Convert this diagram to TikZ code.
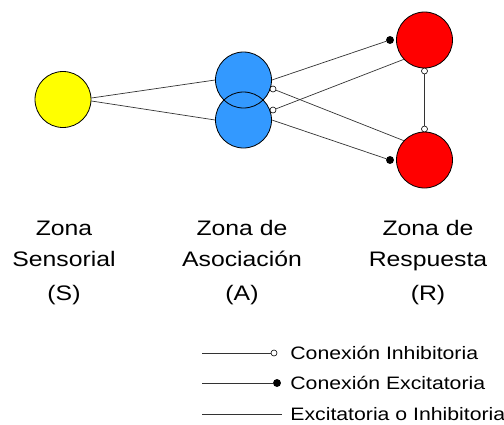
\documentclass[tikz,border=0pt]{standalone}
\usepackage{fontspec}
\setmainfont{Liberation Sans}[FakeStretch=1.18]
\usetikzlibrary{positioning}

\definecolor{sensor}{RGB}{255,255,0}
\definecolor{assoc}{RGB}{51,153,255}
\definecolor{resp}{RGB}{255,0,0}

\begin{document}
\begin{tikzpicture}
	[x=1pt, y=-1pt, line width=0.8pt,
	 neuron/.style = {circle, minimum size=56pt, inner sep=0pt},
	 link/.style = {black!80, line width=0.7pt},
	 inh/.style = {draw, circle, fill=white, minimum size=6pt, inner sep=0pt, line width=0.6pt},
	 exc/.style = {draw, circle, fill=black, minimum size=7pt, inner sep=0pt},
	 zone/.style = {align=center, anchor=base, inner sep=0pt, font=\fontsize{21}{31}\selectfont},
	 legend/.style = {anchor=base west, inner sep=0pt, font=\fontsize{18}{22}\selectfont}]
	\useasboundingbox (0,0) rectangle (504,424);
	\node[neuron, draw, fill=sensor] (S) at (63,99.5) {};
	\node[neuron, fill=assoc] (A1) at (243.5,80) {};
	\node[neuron, fill=assoc] (A2) at (243.5,120) {};
	\draw (A1.center) circle[radius=28pt];
	\draw (A2.center) circle[radius=28pt];
	\node[neuron, draw, fill=resp] (R1) at (424.5,40) {};
	\node[neuron, draw, fill=resp] (R2) at (424.5,160) {};
	\node[exc] (e1) at (390,40) {};
	\node[exc] (e2) at (390,160) {};
	\node[inh] (i1) at (273,89) {};
	\node[inh] (i2) at (273,110) {};
	\node[inh] (i3) at (424.5,71) {};
	\node[inh] (i4) at (424.5,129) {};
	\draw[link] (S.3) -- (A1.west);
	\draw[link] (S.-3) -- (A2.west);
	\draw[link] (A1.east) -- (e1);
	\draw[link] (A2.east) -- (e2);
	\draw[link] (i1) -- (R2.137);
	\draw[link] (i2) -- (R1.223);
	\draw[link] (i3) -- (i4);
	\node[zone] (zs) at (64,300) {Zona\\Sensorial\\[3pt](S)};
	\node[zone] (za) at (242,300) {Zona de\\Asociación\\[3pt](A)};
	\node[zone] (zr) at (428,300) {Zona de\\Respuesta\\[3pt](R)};
	\node[inh] (li) at (274,353) {};
	\node[exc] (le) at (277,383) {};
	\coordinate (l1) at (202,353);
	\coordinate (l2) at (202,383);
	\coordinate (l3) at (202,414);
	\coordinate (l4) at (282,414);
	\draw[link] (l1) -- (li);
	\draw[link] (l2) -- (le);
	\draw[link] (l3) -- (l4);
	\node[legend] (t1) at (290,359.5) {Conexión Inhibitoria};
	\node[legend] (t2) at (290,389.5) {Conexión Excitatoria};
	\node[legend] (t3) at (290,420) {Excitatoria o Inhibitoria};
\end{tikzpicture}
\end{document}
